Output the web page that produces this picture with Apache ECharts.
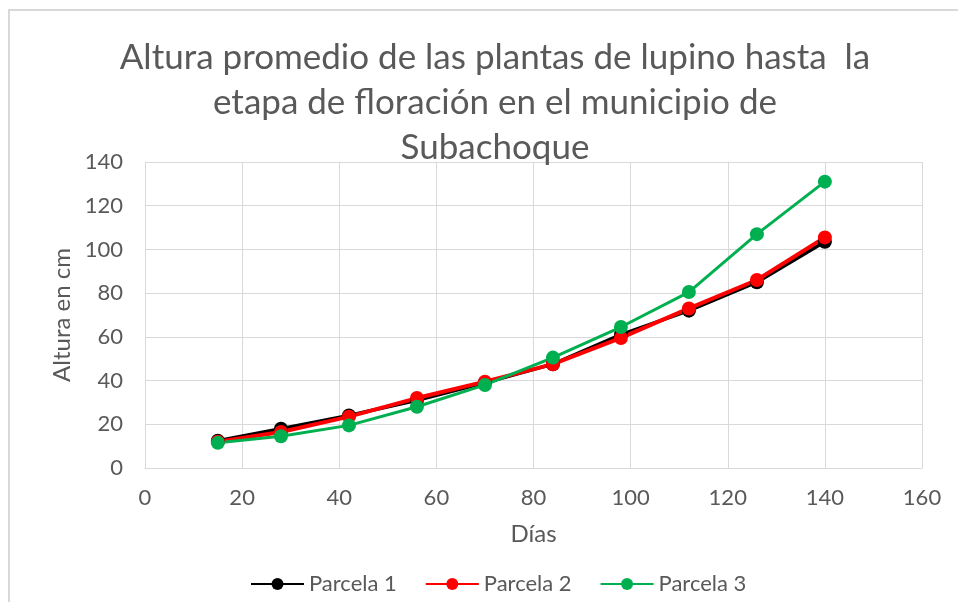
<!DOCTYPE html>
<html>
<head>
<meta charset="utf-8">
<script src="https://cdn.jsdelivr.net/npm/echarts@6/dist/echarts.min.js"></script>
<style>
  html, body { margin: 0; padding: 0; background: #fff; }
  #chart { width: 958px; height: 602px; }
</style>
</head>
<body>
<div id="chart"></div>
<script>
// días de medición
const dias = [15, 28, 42, 56, 70, 84, 98, 112, 126, 140];
// altura promedio (cm) por parcela
const parcela1 = [12.5, 18, 24, 31, 39, 47.5, 61, 72, 85, 103.5];
const parcela2 = [12, 16.5, 23.5, 32, 39.5, 47.5, 59.5, 73, 86, 105.5];
const parcela3 = [11.5, 14.5, 19.5, 28, 38, 50.5, 64.5, 80.5, 107, 131];

const textColor = "#595959";
const fontFamily = "Lato, 'Open Sans', sans-serif";

const toPairs = (vals) => dias.map((d, i) => [d, vals[i]]);

const series = [
  { name: "Parcela 1", data: parcela1, color: "#000000", width: 3.5 },
  { name: "Parcela 2", data: parcela2, color: "#ff0000", width: 4 },
  { name: "Parcela 3", data: parcela3, color: "#00b050", width: 3 },
];

const chart = echarts.init(document.getElementById("chart"));

chart.setOption({
  animation: false,
  textStyle: { fontFamily: fontFamily },
  title: {
    text: "Altura promedio de las plantas de lupino hasta  la\netapa de floración en el municipio de\nSubachoque",
    left: 490,
    textAlign: "center",
    top: 30,
    textStyle: {
      fontFamily: fontFamily,
      fontSize: 35,
      fontWeight: "normal",
      color: textColor,
      lineHeight: 45,
    },
  },
  legend: {
    bottom: 2,
    left: 245,
    itemWidth: 53,
    itemHeight: 15,
    itemGap: 28,
    textStyle: { fontSize: 22, color: textColor, fontFamily: fontFamily },
    data: series.map((s) => s.name),
  },
  graphic: [
    {
      type: "rect",
      shape: { x: 9, y: 10, width: 1000, height: 700 },
      style: { fill: "none", stroke: "#d9d9d9", lineWidth: 2 },
      silent: true,
    },
  ],
  grid: { left: 145, right: 36, top: 162, bottom: 134 },
  xAxis: {
    type: "value",
    min: 0,
    max: 160,
    interval: 20,
    name: "Días",
    nameLocation: "middle",
    nameGap: 54,
    nameTextStyle: { fontSize: 24, color: textColor },
    axisLine: { show: true, lineStyle: { color: "#d9d9d9" } },
    axisTick: { show: false },
    axisLabel: { fontSize: 22, color: textColor, margin: 19 },
    splitLine: { show: true, lineStyle: { color: "#d9d9d9", width: 1 } },
  },
  yAxis: {
    type: "value",
    min: 0,
    max: 140,
    interval: 20,
    name: "Altura en cm",
    nameLocation: "middle",
    nameGap: 71,
    nameTextStyle: { fontSize: 24, color: textColor },
    axisLine: { show: true, lineStyle: { color: "#d9d9d9" } },
    axisTick: { show: false },
    axisLabel: { fontSize: 22, color: textColor, margin: 22 },
    splitLine: { show: true, lineStyle: { color: "#d9d9d9", width: 1 } },
  },
  series: series.map((s) => ({
    name: s.name,
    type: "line",
    data: toPairs(s.data),
    symbol: "circle",
    symbolSize: 14,
    lineStyle: { width: s.width, color: s.color },
    itemStyle: { color: s.color },
  })),
});
</script>
</body>
</html>
